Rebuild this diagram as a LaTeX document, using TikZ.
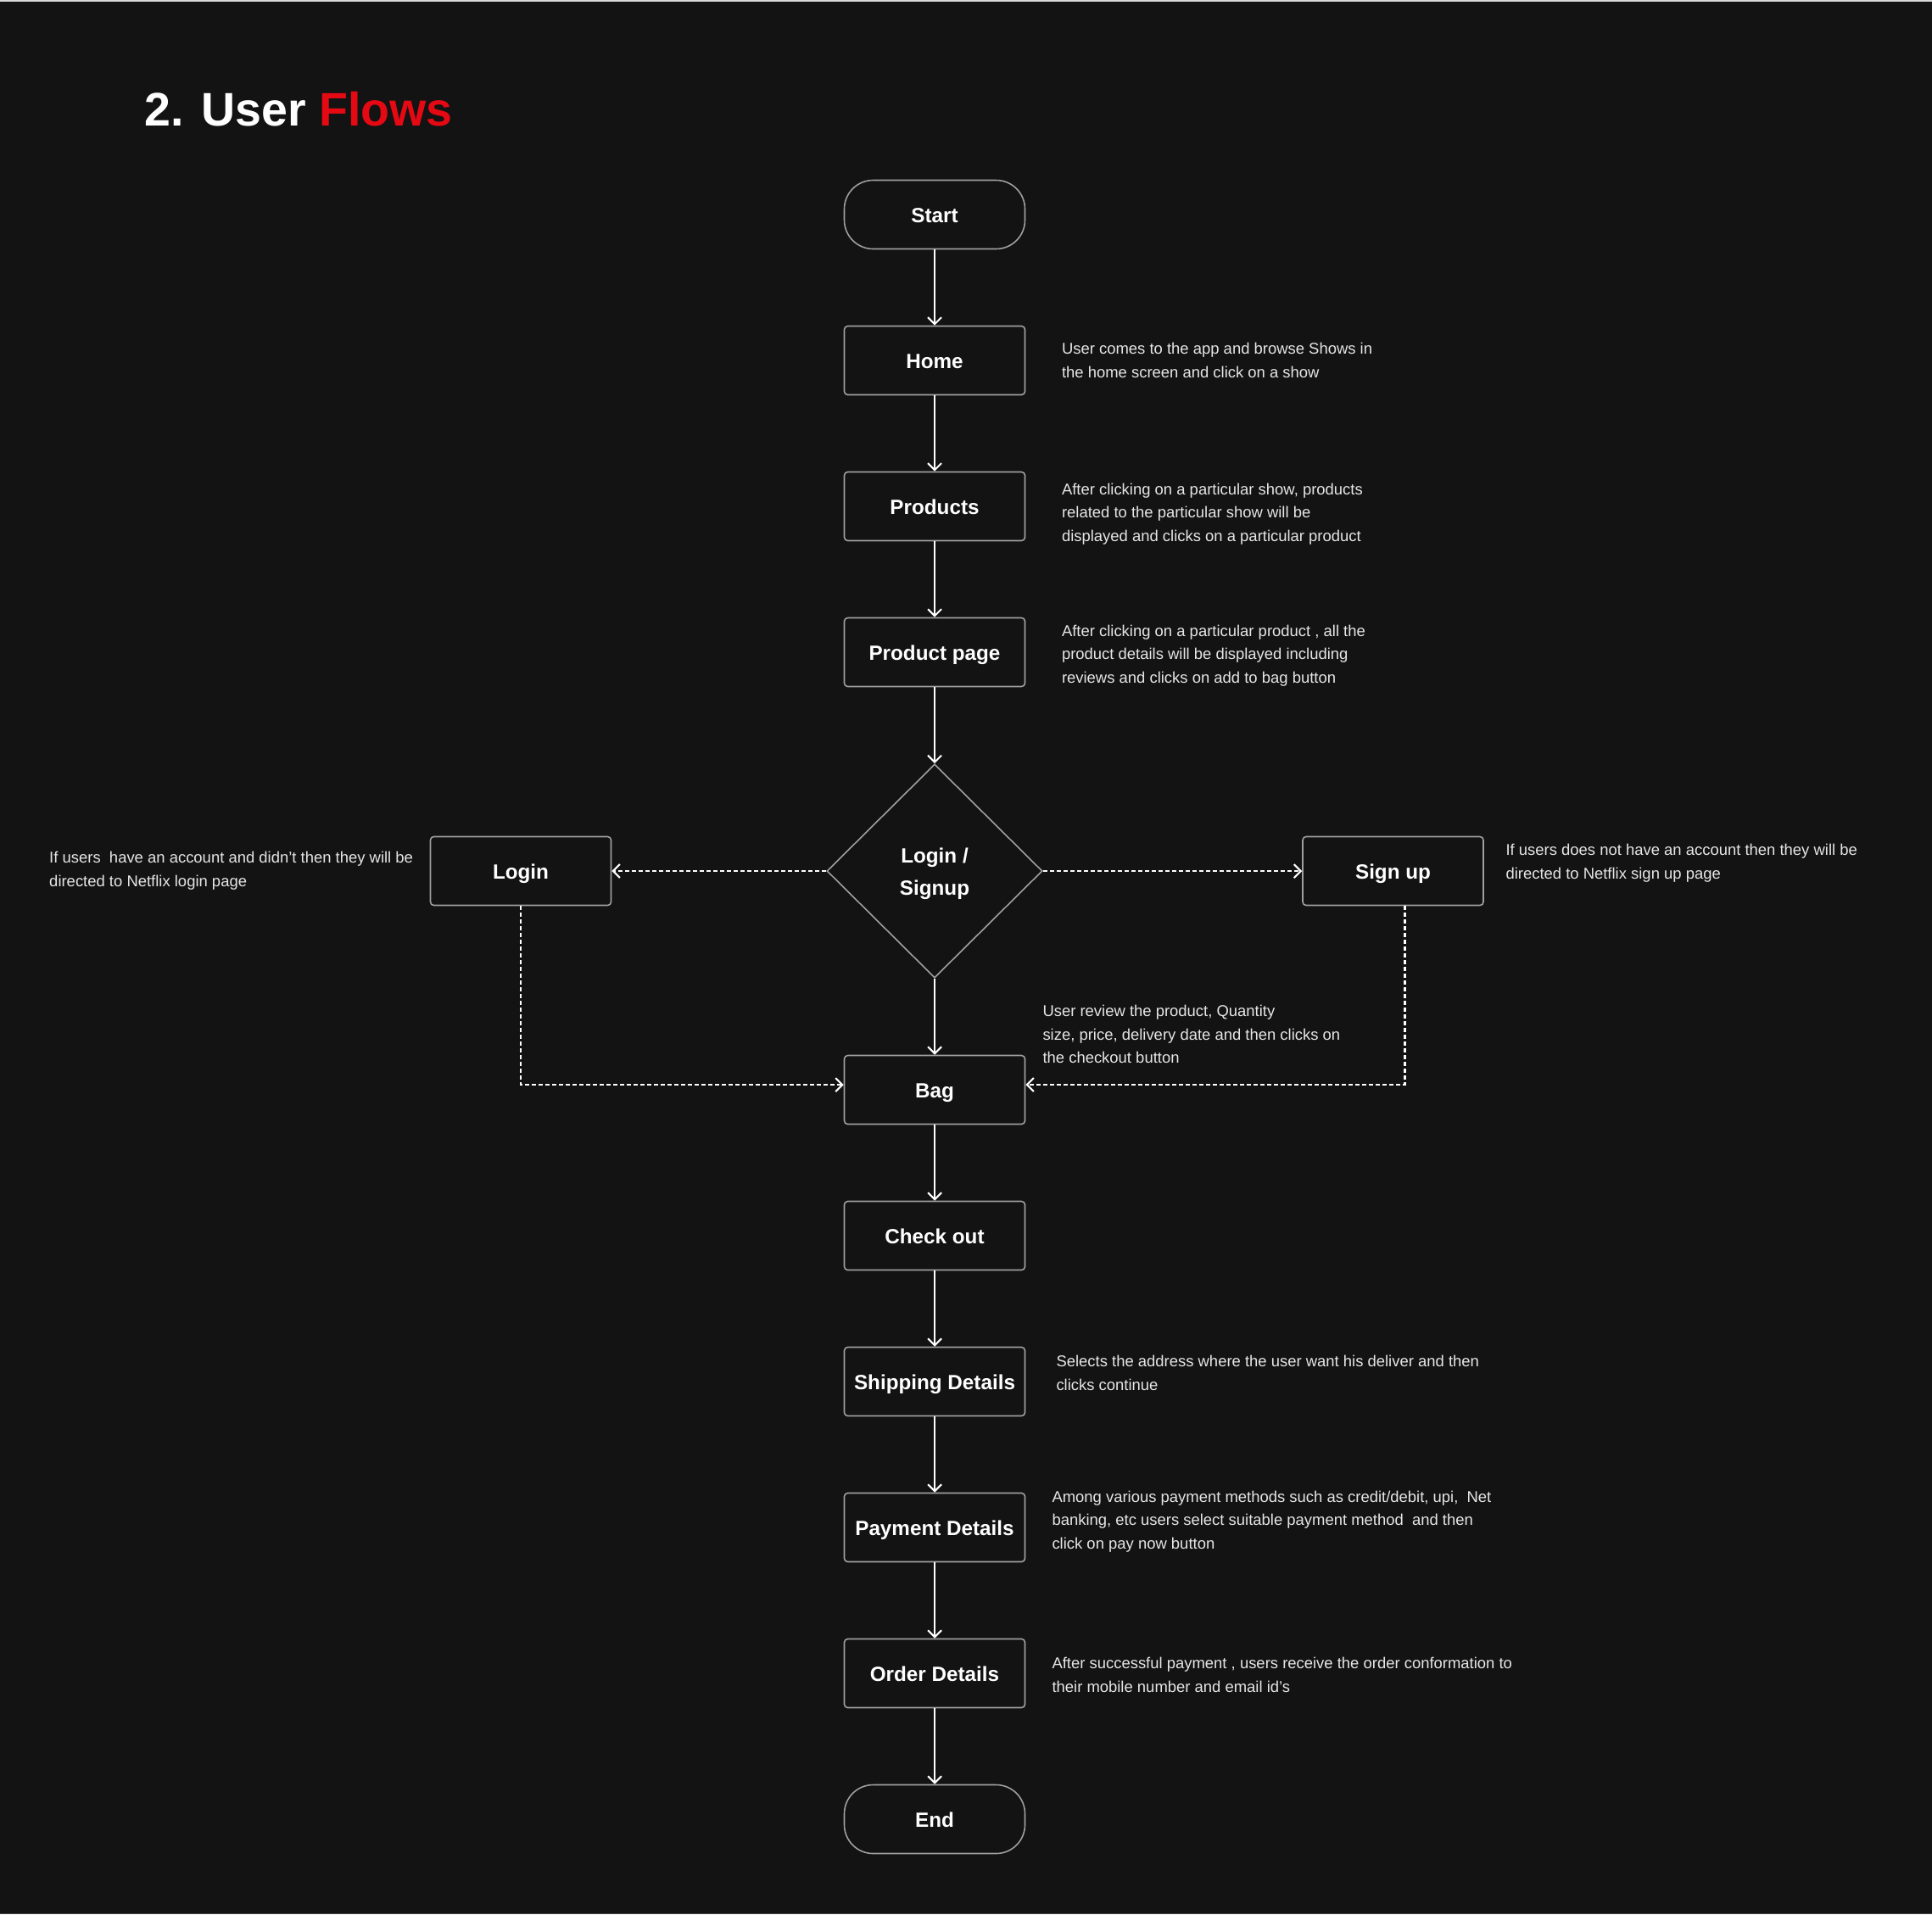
\documentclass[tikz,border=0pt]{standalone}
\usepackage{fontspec}
\setmainfont{Liberation Sans}
\usepackage{xcolor}
\usetikzlibrary{positioning}
\usetikzlibrary{shapes.geometric}
\usetikzlibrary{arrows.meta}
\definecolor{bgdark}{HTML}{131313}
\definecolor{netred}{HTML}{E50914}
\definecolor{boxline}{HTML}{A0A0A0}
\definecolor{notegray}{HTML}{E6E6E6}

\begin{document}
\begin{tikzpicture}[
flowrect/.style={rectangle, align = center, 
draw = boxline, line width = 0.45pt,
fill = bgdark, text = white, font = \fontsize{6.9}{10.8}\selectfont\bfseries,
text height = 5.6pt, text depth = 0pt,
minimum width = 2.13cm, minimum height = 0.81cm, inner sep = 0, rounded corners = 0.04cm}, 
termrect/.style={flowrect, rounded corners = 0.34cm},
decrect/.style={diamond, align = center, 
draw = boxline, line width = 0.45pt,
fill = bgdark, text = white, font = \fontsize{6.9}{10.8}\selectfont\bfseries,
text height = 17.46pt, text depth = 1.45pt,
minimum width = 2.54cm, minimum height = 2.52cm, inner sep = 0},
flowarr/.style={-{Straight Barb[length = 0.08cm, width = 0.16cm]}, line width = 0.6pt, draw = white},
dasharr/.style={flowarr, dash pattern = on 0.05cm off 0.03cm},
notetext/.style={align = left, text = notegray, font = \fontsize{5.25}{7.85}\selectfont, inner sep = 0},
node distance = 1.72cm]

\fill[bgdark] (0,0) rectangle (22.78,-22.57);
\useasboundingbox (0,0) rectangle (22.78,-22.57);
\draw[white!85!black, line width = 0.3pt] (0,-0.01) -- (22.78,-0.01);
\draw[white!20!bgdark, line width = 0.3pt] (0,-22.56) -- (22.78,-22.56);

\node (title) [anchor = base west, inner sep = 0, text = white, font = \fontsize{15.8}{18}\selectfont\bfseries] at (1.70,-1.48) {2. User \textcolor{netred}{Flows}};

% main column
\node[termrect] (start) at (11.02,-2.53) {Start};
\node[flowrect, below of = start] (home) {Home};
\node[flowrect, below of = home] (prod) {Products};
\node[flowrect, below of = prod] (page) {Product page};
\node[decrect, node distance = 2.58cm, below of = page] (ls) {Login /\\Signup};
\node[flowrect, node distance = 2.58cm, below of = ls] (bag) {Bag};
\node[flowrect, below of = bag] (check) {Check out};
\node[flowrect, below of = check] (ship) {Shipping Details};
\node[flowrect, below of = ship] (pay) {Payment Details};
\node[flowrect, below of = pay] (order) {Order Details};
\node[termrect, below of = order] (end) {End};

% side boxes
\node[flowrect, node distance = 4.88cm, left of = ls] (login) {Login};
\node[flowrect, node distance = 5.405cm, right of = ls] (signup) {Sign up};

% notes
\node[notetext, right = 0.42cm of home] (nhome) {User comes to the app and browse Shows in\\the home screen and click on a show};
\node[notetext, right = 0.42cm of prod, yshift = -0.09cm] (nprod) {After clicking on a particular show, products\\related to the particular show will be\\displayed and clicks on a particular product};
\node[notetext, right = 0.42cm of page, yshift = -0.04cm] (npage) {After clicking on a particular product , all the\\product details will be displayed including\\reviews and clicks on add to bag button};
\node[notetext, left = 0.19cm of login] (nlogin) {If users\ \ have an account and didn’t then they will be\\directed to Netflix login page};
\node[notetext, right = 0.25cm of signup, yshift = 0.09cm] (nsignup) {If users does not have an account then they will be\\directed to Netflix sign up page};
\node[notetext, anchor = west] (nbag) at ([xshift = 0.195cm, yshift = 0.24cm]bag.north east) {User review the product, Quantity\\size, price, delivery date and then clicks on\\the checkout button};
\node[notetext, right = 0.355cm of ship, yshift = 0.10cm] (nship) {Selects the address where the user want his deliver and then\\clicks continue};
\node[notetext, right = 0.305cm of pay, yshift = 0.07cm] (npay) {Among various payment methods such as credit/debit, upi,\ \ Net\\banking, etc users select suitable payment method\ \ and then\\click on pay now button};
\node[notetext, right = 0.305cm of order, yshift = -0.02cm] (norder) {After successful payment , users receive the order conformation to\\their mobile number and email id’s};

% connectors
\draw[flowarr] (start) -- (home);
\draw[flowarr] (home) -- (prod);
\draw[flowarr] (prod) -- (page);
\draw[flowarr] (page) -- (ls);
\draw[flowarr] (ls) -- (bag);
\draw[flowarr] (bag) -- (check);
\draw[flowarr] (check) -- (ship);
\draw[flowarr] (ship) -- (pay);
\draw[flowarr] (pay) -- (order);
\draw[flowarr] (order) -- (end);
\draw[dasharr] (ls.west) -- (login.east);
\draw[dasharr] (ls.east) -- (signup.west);
\draw[dasharr] (login.south) |- ([yshift = 0.06cm]bag.west);
\draw[dasharr] ([xshift = 0.14cm]signup.south) |- ([yshift = 0.06cm]bag.east);
\end{tikzpicture}
\end{document}
